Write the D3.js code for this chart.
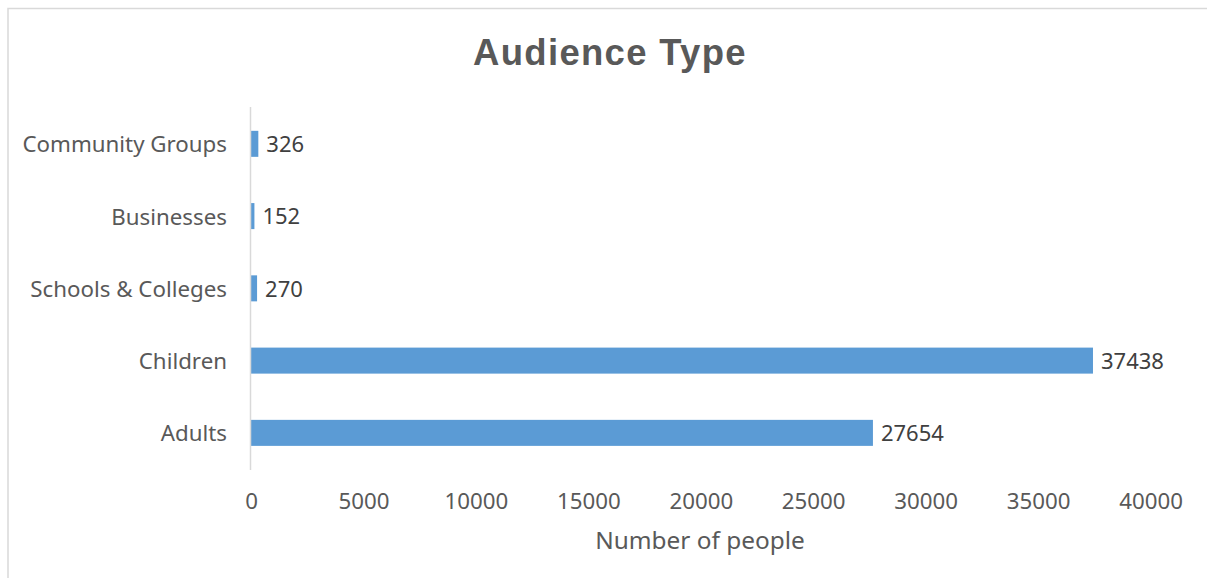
<!DOCTYPE html>
<html>
<head>
<meta charset="utf-8">
<script src="https://cdn.jsdelivr.net/npm/d3@7"></script>
<style>
  html, body { margin: 0; padding: 0; background: #fff; }
  svg { display: block; }
</style>
</head>
<body>
<div id="chart"></div>
<script>
// data
const categories = ["Community Groups", "Businesses", "Schools & Colleges", "Children", "Adults"];
const values = [326, 152, 270, 37438, 27654];
const xTicks = [0, 5000, 10000, 15000, 20000, 25000, 30000, 35000, 40000];

const width = 1207, height = 578;
const labelFont = "'Noto Sans', 'Open Sans', sans-serif";

const svg = d3.select("#chart").append("svg")
    .attr("width", width).attr("height", height);

// outer chart frame
svg.append("rect")
    .attr("x", 8).attr("y", 8.5)
    .attr("width", 1220).attr("height", 600)
    .attr("fill", "none").attr("stroke", "#d9d9d9").attr("stroke-width", 1.5);

const x = d3.scaleLinear().domain([0, 40000]).range([251, 1150.6]);
const y = d3.scaleBand().domain(categories)
    .range([107.7, 469]).paddingInner(0.64).paddingOuter(0.32);

// title
svg.append("text")
    .attr("x", 610).attr("y", 65)
    .attr("text-anchor", "middle")
    .attr("font-family", "'Liberation Sans', Arial, sans-serif")
    .attr("font-weight", "bold").attr("font-size", 36.5)
    .attr("letter-spacing", 1.3)
    .attr("fill", "#595959")
    .text("Audience Type");

// bars
svg.selectAll("rect.bar")
    .data(categories)
    .join("rect")
    .attr("class", "bar")
    .attr("x", x(0))
    .attr("y", d => y(d))
    .attr("width", (d, i) => x(values[i]) - x(0))
    .attr("height", y.bandwidth())
    .attr("fill", "#5b9bd5");

// value labels
svg.selectAll("text.val")
    .data(categories)
    .join("text")
    .attr("class", "val")
    .attr("x", (d, i) => x(values[i]) + 8)
    .attr("y", d => y(d) + y.bandwidth() / 2)
    .attr("dy", "0.38em")
    .attr("font-family", labelFont).attr("font-size", 22)
    .attr("fill", "#404040")
    .text((d, i) => values[i]);

// category axis
const yAxis = svg.append("g")
    .attr("transform", `translate(${x(0)},0)`)
    .call(d3.axisLeft(y).tickSize(0).tickPadding(24));
yAxis.select(".domain").attr("stroke", "#d9d9d9").attr("stroke-width", 1.5)
    .attr("d", `M-0.5,107V470`);
yAxis.selectAll("text")
    .attr("font-family", labelFont).attr("font-size", 22.3)
    .attr("dy", "0.38em")
    .attr("fill", "#595959");

// value axis (labels only)
const xAxis = svg.append("g")
    .attr("transform", "translate(0,481)")
    .call(d3.axisBottom(x).tickValues(xTicks).tickFormat(d3.format("d")).tickSize(0).tickPadding(12));
xAxis.select(".domain").remove();
xAxis.selectAll("text")
    .attr("font-family", labelFont).attr("font-size", 22.3)
    .attr("fill", "#595959");

svg.append("text")
    .attr("x", 700).attr("y", 549)
    .attr("text-anchor", "middle")
    .attr("font-family", labelFont).attr("font-size", 24.4)
    .attr("fill", "#595959")
    .text("Number of people");
</script>
</body>
</html>
